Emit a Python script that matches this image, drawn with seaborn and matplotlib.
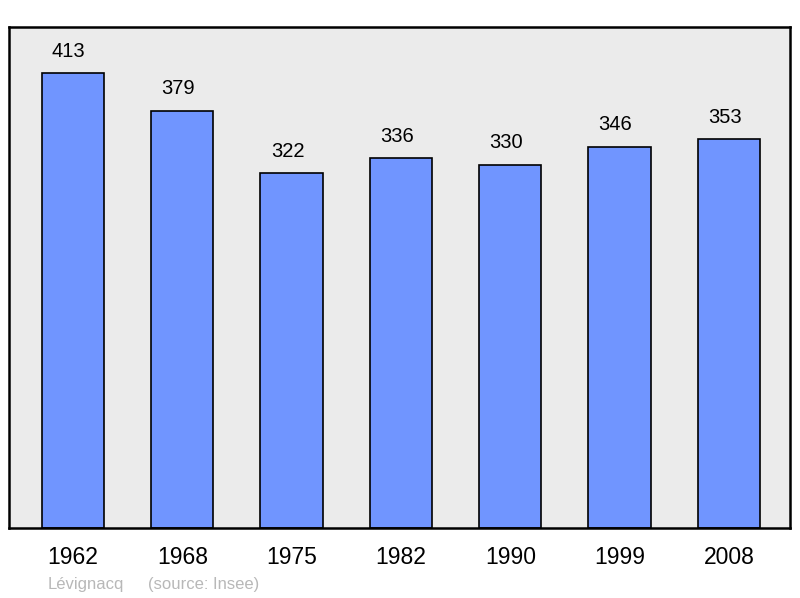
import pandas as pd
import seaborn as sns
import matplotlib.pyplot as plt

years = ["1962", "1968", "1975", "1982", "1990", "1999", "2008"]
population = [413, 379, 322, 336, 330, 346, 353]

df = pd.DataFrame({"year": years, "pop": population})

sns.set_style("white")
plt.rcParams["font.family"] = ["Liberation Sans", "DejaVu Sans"]
plt.rcParams["text.color"] = "black"
plt.rcParams["xtick.color"] = "black"

fig = plt.figure(figsize=(8, 5.98), dpi=100)
ax = fig.add_axes([0.01125, 0.1171, 0.97625, 0.8378])
ax.set_facecolor("#ebebeb")

sns.barplot(data=df, x="year", y="pop", color="#7095ff", saturation=1,
            edgecolor="black", linewidth=1.2, width=0.57, ax=ax)

# value labels above each bar (slightly left of centre, as in the original)
for i, v in enumerate(population):
    ax.annotate(str(v), (i, v), xytext=(-3, 9), textcoords="offset points",
                ha="center", va="bottom", fontsize=14.5, color="black")

ax.set_xlim(-0.585, 6.558)
ax.set_ylim(0, 455)
ax.set_yticks([])
ax.set_xlabel("")
ax.set_ylabel("")
ax.tick_params(axis="x", length=0, pad=13, labelsize=16.5, labelcolor="black")

for s in ax.spines.values():
    s.set_visible(True)
    s.set_color("black")
    s.set_linewidth(1.8)

fig.text(48 / 800, 1 - 584 / 598, "Lévignacq",
         color="#b8b8b8", fontsize=12, va="center", ha="left")
fig.text(148 / 800, 1 - 584 / 598, "(source: Insee)",
         color="#b8b8b8", fontsize=12, va="center", ha="left")

fig.savefig("out.png", dpi=100)
